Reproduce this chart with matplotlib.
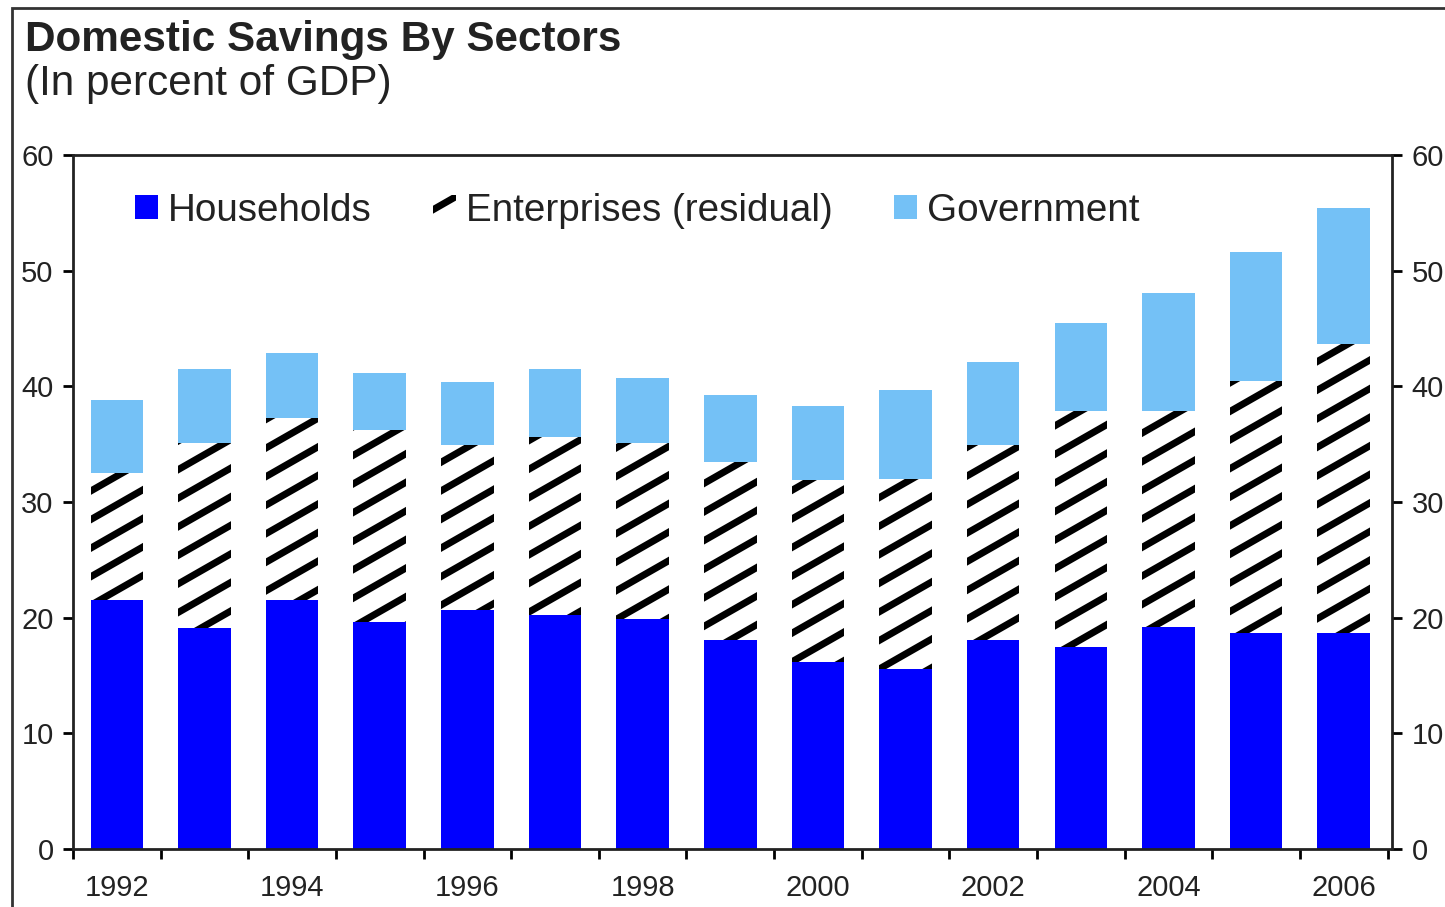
import matplotlib.pyplot as plt
import matplotlib.patches as mpatches
import matplotlib.hatch as mhatch
from matplotlib.path import Path
import numpy as np

plt.rcParams['font.family'] = ['Liberation Sans', 'DejaVu Sans']
plt.rcParams['hatch.linewidth'] = 2.5

years = [1992, 1993, 1994, 1995, 1996, 1997, 1998, 1999,
         2000, 2001, 2002, 2003, 2004, 2005, 2006]

# stacked tops read as cumulative levels, then turned into segment heights
households = [21.5, 19.1, 21.5, 19.6, 20.7, 20.2, 19.9, 18.1,
              16.2, 15.6, 18.1, 17.5, 19.2, 18.7, 18.7]
enterprises_top = [32.5, 35.1, 37.3, 36.2, 34.9, 35.6, 35.1, 33.5,
                   31.9, 32.0, 34.9, 37.9, 37.9, 40.5, 43.7]
government_top = [38.8, 41.5, 42.9, 41.2, 40.4, 41.5, 40.7, 39.3,
                  38.3, 39.7, 42.1, 45.5, 48.1, 51.6, 55.4]

enterprises = [t - h for t, h in zip(enterprises_top, households)]
government = [g - t for g, t in zip(government_top, enterprises_top)]

yticks = [0, 10, 20, 30, 40, 50, 60]

txtcolor = '#222222'
blue = '#0000ff'
lightblue = '#74c1f6'


class ShallowNorthEast(mhatch.HatchPatternBase):
    """'/' hatch with a flatter slope than the stock 45 degrees."""

    def __init__(self, hatch, density):
        n = hatch.count('/')
        self.lines = 7 * n
        self.slope = 4 / 7  # rise per tile is a whole number of line steps
        self.offsets = []
        if n:
            self.offsets = [k / self.lines
                            for k in range(-self.lines, 2 * self.lines + 1)]
        self.num_vertices = 2 * len(self.offsets)

    def set_vertices_and_codes(self, vertices, codes):
        s = self.slope
        for i, c in enumerate(self.offsets):
            vertices[2 * i] = (-0.1, c - 0.1 * s)
            vertices[2 * i + 1] = (1.1, c + 1.1 * s)
            codes[2 * i] = Path.MOVETO
            codes[2 * i + 1] = Path.LINETO


mhatch._hatch_types[:] = [ShallowNorthEast if h is mhatch.NorthEastHatch else h
                          for h in mhatch._hatch_types]

fig = plt.figure(figsize=(7.225, 4.535), dpi=200)
ax = fig.add_axes([0.0505, 0.0639, 0.9128, 0.7651])

x = np.arange(len(years))
w = 0.6
ax.bar(x, households, width=w, color=blue, linewidth=0, label='Households')
ax.bar(x, enterprises, width=w, bottom=households, facecolor='white',
       edgecolor='black', hatch='/', linewidth=0, label='Enterprises (residual)')
ax.bar(x, government, width=w, bottom=enterprises_top, color=lightblue,
       linewidth=0, label='Government')

ax.set_xlim(-0.5, len(years) - 0.45)
ax.set_ylim(0, 60)

# tick marks sit between the bars, labels on every other year
ax.set_xticks(np.arange(-0.5, len(years), 1.0))
ax.set_xticklabels([])
ax.set_xticks(x[::2], minor=True)
ax.set_xticklabels([str(y) for y in years[::2]], minor=True)
ax.tick_params(axis='x', which='major', direction='out', length=3.5, width=1.0)
ax.tick_params(axis='x', which='minor', length=0, pad=9, labelsize=10.5,
               labelcolor=txtcolor)

ax.set_yticks(yticks)
ax.set_yticklabels([str(v) for v in yticks])
ax.tick_params(axis='y', which='both', direction='out', length=3.5, width=1.0,
               labelsize=10.5, labelcolor=txtcolor, left=True, right=True,
               labelleft=True, labelright=True, pad=3.5)

for s in ax.spines.values():
    s.set_linewidth(1.0)
    s.set_color('#222222')

ax.legend(loc='upper left', bbox_to_anchor=(0.035, 0.968), ncol=3,
          frameon=False, fontsize=13.9, handlelength=0.6, handleheight=0.6,
          handletextpad=0.25, columnspacing=1.6, labelcolor=txtcolor,
          borderaxespad=0.0)

fig.text(0.0173, 0.956, 'Domestic Savings By Sectors', fontsize=15.2,
         fontweight='bold', color=txtcolor, va='center', ha='left')
fig.text(0.0173, 0.907, '(In percent of GDP)', fontsize=15.2,
         color=txtcolor, va='center', ha='left')

# outer frame round the whole chart
frame = mpatches.Rectangle((12 / 1445, -0.05), 1.1, (907 - 8) / 907 + 0.05,
                           transform=fig.transFigure, fill=False,
                           edgecolor='#333333', linewidth=1.0)
fig.patches.append(frame)

fig.savefig('out.png', dpi=200)
